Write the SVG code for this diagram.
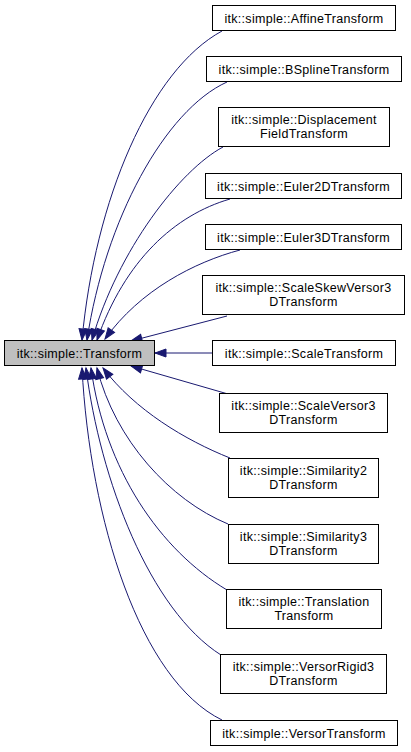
<svg xmlns="http://www.w3.org/2000/svg" width="411" height="752" viewBox="0 0 411 752">
<style>
.n rect{fill:#ffffff;stroke:#000000;stroke-width:1}
#transform rect{fill:#bfbfbf}
text{font-family:"Liberation Sans",Arial,Helvetica,sans-serif;font-size:12.5px;letter-spacing:0.3px;text-anchor:middle;fill:#000000}
.e path{fill:none;stroke:#191970;stroke-width:1;marker-end:url(#ah)}
</style>
<defs>
<marker id="ah" viewBox="0 0 12 9" refX="11.5" refY="4.5" markerWidth="12" markerHeight="9" markerUnits="userSpaceOnUse" orient="auto" overflow="visible">
<path d="M0.5,0.5 L11.5,4.5 L0.5,8.5 z" fill="#191970" stroke="#191970" stroke-width="1"/>
</marker>
</defs>
<rect width="411" height="752" fill="#ffffff"/>
<g id="edges" class="e">
<path d="M222,31 C150,70 95,200 82,340"/>
<path d="M227,82 C165,110 105,220 87,340"/>
<path d="M223,147 C180,170 118,250 92,340"/>
<path d="M230,199 C175,215 125,260 97,340"/>
<path d="M240,250 C195,262 140,290 105,339"/>
<path d="M227,316 L131,341"/>
<path d="M212,353 L155,353"/>
<path d="M228,394 L131,366"/>
<path d="M230,458 C185,440 135,410 103,368"/>
<path d="M228,524 C170,500 115,440 97,368"/>
<path d="M227,590 C160,550 105,470 91,368"/>
<path d="M221,655 C150,610 100,480 86,368"/>
<path d="M222,720 C140,680 90,520 82,368"/>
</g>
<g id="transform" class="n"><rect x="4.5" y="340.5" width="150" height="25"/><text x="79.5" y="358">itk::simple::Transform</text></g>
<g id="affine" class="n"><rect x="212.5" y="5.5" width="183" height="25"/><text x="304" y="23">itk::simple::AffineTransform</text></g>
<g id="bspline" class="n"><rect x="206.5" y="56.5" width="195" height="25"/><text x="304" y="74">itk::simple::BSplineTransform</text></g>
<g id="displacement" class="n"><rect x="218.5" y="107.5" width="171" height="39"/><text x="304" y="124">itk::simple::Displacement</text><text x="304" y="138">FieldTransform</text></g>
<g id="euler2d" class="n"><rect x="205.5" y="173.5" width="196" height="25"/><text x="303.5" y="191">itk::simple::Euler2DTransform</text></g>
<g id="euler3d" class="n"><rect x="205.5" y="224.5" width="196" height="25"/><text x="303.5" y="242">itk::simple::Euler3DTransform</text></g>
<g id="scaleskew" class="n"><rect x="202.5" y="275.5" width="202" height="39"/><text x="303.5" y="292">itk::simple::ScaleSkewVersor3</text><text x="303.5" y="306">DTransform</text></g>
<g id="scale" class="n"><rect x="212.5" y="340.5" width="183" height="25"/><text x="304" y="358">itk::simple::ScaleTransform</text></g>
<g id="scaleversor" class="n"><rect x="219.5" y="393.5" width="168" height="39"/><text x="303.5" y="410">itk::simple::ScaleVersor3</text><text x="303.5" y="424">DTransform</text></g>
<g id="similarity2d" class="n"><rect x="228.5" y="458.5" width="150" height="39"/><text x="303.5" y="475">itk::simple::Similarity2</text><text x="303.5" y="489">DTransform</text></g>
<g id="similarity3d" class="n"><rect x="228.5" y="524.5" width="150" height="39"/><text x="303.5" y="541">itk::simple::Similarity3</text><text x="303.5" y="555">DTransform</text></g>
<g id="translation" class="n"><rect x="226.5" y="589.5" width="155" height="39"/><text x="304" y="606">itk::simple::Translation</text><text x="304" y="620">Transform</text></g>
<g id="versorrigid" class="n"><rect x="220.5" y="654.5" width="166" height="39"/><text x="303.5" y="671">itk::simple::VersorRigid3</text><text x="303.5" y="685">DTransform</text></g>
<g id="versor" class="n"><rect x="210.5" y="720.5" width="187" height="25"/><text x="304" y="738">itk::simple::VersorTransform</text></g>
</svg>
